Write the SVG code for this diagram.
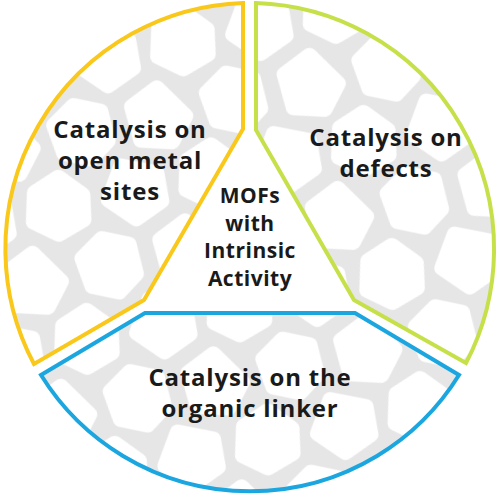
<svg xmlns="http://www.w3.org/2000/svg" xmlns:xlink="http://www.w3.org/1999/xlink" width="500" height="498" viewBox="0 0 500 498">
<style>
.lbl{font-family:"Open Sans","Liberation Sans",sans-serif;font-weight:700;font-size:24px;letter-spacing:0.8px;fill:#1a1a1a;text-anchor:middle}
.ctr{font-size:21px;letter-spacing:0.5px}
.blob{fill:#fff;stroke:#fff;stroke-width:16;stroke-linejoin:round}
.sec{fill:url(#foam);stroke-width:4;stroke-linejoin:miter}
</style>
<defs>
<polygon id="bA" class="blob" points="23,14 3,28 -22,17 -26,-12 -3,-27 22,-16"/>
<polygon id="bB" class="blob" points="26,6 8,28 -22,20 -24,-14 4,-27"/>
<polygon id="bC" class="blob" points="22,18 -5,27 -27,10 -20,-18 6,-28 26,-6"/>
<polygon id="bD" class="blob" points="25,-12 24,16 -4,28 -27,4 -8,-26"/>
<pattern id="foam" patternUnits="userSpaceOnUse" width="156" height="136" patternTransform="rotate(-12) translate(14,10)">
<rect width="156" height="136" fill="#e6e6e6"/>
<use href="#bA" x="39" y="0"/><use href="#bA" x="39" y="136"/>
<use href="#bB" x="117" y="0"/><use href="#bB" x="117" y="136"/>
<use href="#bC" x="0" y="68"/><use href="#bC" x="156" y="68"/>
<use href="#bD" x="78" y="68"/>
</pattern>
</defs>
<rect width="500" height="498" fill="#fff"/>
<g id="open-metal-sites">
<path class="sec" stroke="#f9c81a" d="M243,3 L243,129 L144,300 L34,364 A246,246 0 0 1 243,3 Z"/>
<text class="lbl" x="130" y="138">Catalysis on</text>
<text class="lbl" x="130" y="169">open metal</text>
<text class="lbl" x="130" y="200">sites</text>
</g>
<g id="defects">
<path class="sec" stroke="#c6e04a" d="M256,3 A246,246 0 0 1 466,363 L354,300 L256,130 Z"/>
<text class="lbl" x="386" y="146">Catalysis on</text>
<text class="lbl" x="386" y="177">defects</text>
</g>
<g id="organic-linker">
<path class="sec" stroke="#1ba6df" d="M145,313 L355,313 L459,375 A246,246 0 0 1 41,375 Z"/>
<text class="lbl" x="250" y="386">Catalysis on the</text>
<text class="lbl" x="250" y="417">organic linker</text>
</g>
<g id="mofs-center">
<text class="lbl ctr" x="250" y="203">MOFs</text>
<text class="lbl ctr" x="250" y="231">with</text>
<text class="lbl ctr" x="250" y="258">Intrinsic</text>
<text class="lbl ctr" x="250" y="286">Activity</text>
</g>
</svg>
